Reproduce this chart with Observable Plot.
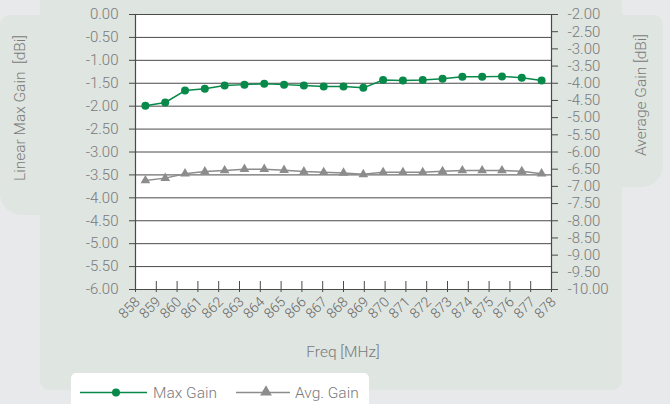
<!DOCTYPE html>
<html><head><meta charset="utf-8">
<script src="https://cdn.jsdelivr.net/npm/d3@7"></script>
<script src="https://cdn.jsdelivr.net/npm/@observablehq/plot@0.6"></script>
<style>
html,body{margin:0;padding:0;background:#e8e9ea;}
#wrap{position:relative;width:670px;height:404px;overflow:hidden;font-family:Roboto,"Helvetica Neue",Arial,sans-serif;font-weight:300;color:#7a7a7a;}
.panel{position:absolute;background:#dfe5e0;}
.ttl{position:absolute;font-size:15.5px;white-space:nowrap;color:#7a7a7a;}
#chart{position:absolute;left:0;top:0;}
#legend{position:absolute;left:71px;top:373px;width:298px;height:40px;background:#fff;border-radius:5px;}
</style></head><body>
<div id="wrap">
  <div class="panel" style="left:40px;top:0;width:582px;height:390px;border-radius:0 0 10px 10px"></div>
  <div class="panel" style="left:0;top:15px;width:60px;height:200px;border-radius:10px 0 0 22px"></div>
  <div class="panel" style="left:600px;top:15px;width:63px;height:172px;border-radius:0 10px 22px 0"></div>
  <div id="chart"></div>
  <div class="ttl" id="ytl" style="left:20px;top:108px;transform:translate(-50%,-50%) rotate(-90deg)">Linear Max Gain&nbsp; [dBi]</div>
  <div class="ttl" id="ytr" style="left:641px;top:95px;transform:translate(-50%,-50%) rotate(-90deg)">Average Gain [dBi]</div>
  <div class="ttl" id="xt" style="left:343px;top:352px;transform:translate(-50%,-50%)">Freq [MHz]</div>
  <div id="legend"></div>
</div>
<script>
// ---- data ----
const freqLabels = [858,859,860,861,862,863,864,865,866,867,868,869,870,871,872,873,874,875,876,877,878];
const maxGain = [-1.99,-1.92,-1.66,-1.62,-1.55,-1.53,-1.51,-1.53,-1.55,-1.57,-1.57,-1.60,-1.43,-1.44,-1.43,-1.40,-1.36,-1.36,-1.35,-1.38,-1.44];
const avgGain = [-6.83,-6.76,-6.63,-6.57,-6.54,-6.50,-6.50,-6.53,-6.57,-6.59,-6.61,-6.65,-6.59,-6.59,-6.59,-6.56,-6.54,-6.54,-6.54,-6.56,-6.63];
const leftTicks = [0,-0.5,-1,-1.5,-2,-2.5,-3,-3.5,-4,-4.5,-5,-5.5,-6];
const rightTicks = [-2,-2.5,-3,-3.5,-4,-4.5,-5,-5.5,-6,-6.5,-7,-7.5,-8,-8.5,-9,-9.5,-10];
const seriesNames = ["Max Gain","Avg. Gain"];

const GREEN = "#07894a", GRAY = "#8c8c8c", TXT = "#7a7a7a", GRID = "#4a4a4a";

const L0 = leftTicks[0], L1 = leftTicks[leftTicks.length-1];
const R0 = rightTicks[0], R1 = rightTicks[rightTicks.length-1];
const toLeft = v => L0 + (v - R0) * (L1 - L0) / (R1 - R0);
const fromLeft = v => R0 + (v - L0) * (R1 - R0) / (L1 - L0);
const F0 = freqLabels[0], F1 = freqLabels[freqLabels.length-1];
// category placement: each point centered in one of n equal slots along the axis
const rows = freqLabels.map((f,i)=>({i, f, max:maxGain[i], avg:avgGain[i]}));
const xCat = d => F0 + (d.i + 0.5) * (F1 - F0) / freqLabels.length;

const H = 404, MT = 14, MB = 115;
const frameH = H - MT - MB;

const chart = Plot.plot({
  width: 670, height: H,
  marginLeft: 135, marginRight: 119, marginTop: MT, marginBottom: MB,
  style: {background: "transparent", fontFamily: "Roboto, 'Helvetica Neue', Arial, sans-serif", fontWeight: 300, color: TXT, overflow: "visible"},
  x: {domain: [F0, F1], axis: null},
  y: {domain: [L1, L0], axis: null},
  marks: [
    Plot.frame({fill: "white", stroke: null}),
    Plot.ruleY(leftTicks, {stroke: GRID, strokeWidth: 1}),
    Plot.ruleX([F0, F1], {stroke: GRID, strokeWidth: 1.2}),
    Plot.ruleX(freqLabels, {stroke: GRID, strokeWidth: 1, insetTop: frameH - 8, insetBottom: -3}),
    Plot.axisY({anchor: "left", ticks: leftTicks, tickSize: 6, tickPadding: 11, tickFormat: d => d.toFixed(2), fontSize: 15, stroke: null, fill: TXT, label: null}),
    Plot.axisY({anchor: "left", ticks: leftTicks, tickSize: 6, tickPadding: 11, tickFormat: () => "", stroke: GRID, label: null}),
    Plot.axisY({anchor: "right", ticks: rightTicks.map(toLeft), tickSize: 6, tickPadding: 10, tickFormat: d => fromLeft(d).toFixed(2), fontSize: 15, fill: TXT, stroke: GRID, label: null}),
    Plot.text(freqLabels, {x: d => d, text: d => String(d), frameAnchor: "bottom", rotate: -45, textAnchor: "end", lineAnchor: "middle", dx: 2, dy: 10, fontSize: 14, fill: "#666"}),
    Plot.line(rows, {x: xCat, y: d => toLeft(d.avg), stroke: GRAY, strokeWidth: 1.5}),
    Plot.dot(rows, {x: xCat, y: d => toLeft(d.avg), symbol: "triangle", r: 3.6, fill: GRAY, stroke: null}),
    Plot.line(rows, {x: xCat, y: "max", stroke: GREEN, strokeWidth: 1.5}),
    Plot.dot(rows, {x: xCat, y: "max", r: 4, fill: GREEN, stroke: null})
  ]
});
document.getElementById("chart").appendChild(chart);

// legend
const lg = d3.select("#legend").append("svg").attr("width", 298).attr("height", 31)
  .style("font-family", "Roboto, 'Helvetica Neue', Arial, sans-serif").style("font-weight", 300);
const g1 = lg.append("g");
g1.append("line").attr("x1", 9).attr("x2", 76).attr("y1", 19.5).attr("y2", 19.5).attr("stroke", GREEN).attr("stroke-width", 1.5);
g1.append("circle").attr("cx", 45).attr("cy", 19.5).attr("r", 4).attr("fill", GREEN);
g1.append("text").attr("x", 82).attr("y", 25).attr("font-size", 15.5).attr("fill", TXT).text(seriesNames[0]);
const g2 = lg.append("g");
g2.append("line").attr("x1", 165).attr("x2", 219).attr("y1", 19.5).attr("y2", 19.5).attr("stroke", GRAY).attr("stroke-width", 1.5);
g2.append("path").attr("d", d3.symbol(d3.symbolTriangle, 60)()).attr("transform", "translate(195,19)").attr("fill", GRAY);
g2.append("text").attr("x", 224).attr("y", 25).attr("font-size", 15.5).attr("fill", TXT).text(seriesNames[1]);
</script>
</body></html>
